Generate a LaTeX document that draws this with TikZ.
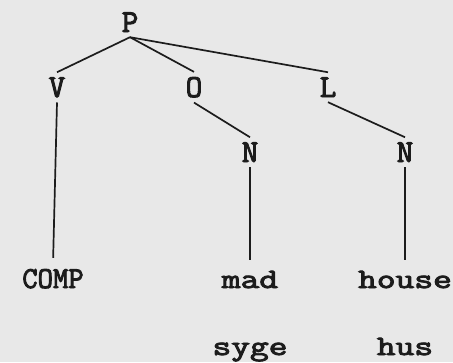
\documentclass[tikz,border=0pt]{standalone}
\usepackage{fontspec}
\usepackage{graphicx}
\usepackage{tikz}
\newfontfamily\typewriter{Latin Modern Mono}[FakeBold=3]
\newcommand{\wide}[1]{\scalebox{1.3}[1]{#1}}
\definecolor{paper}{HTML}{E8E8E8}
\definecolor{ink}{HTML}{1C1C1C}
\tikzset{
  cat/.style={
    anchor=base, inner sep=5pt, text=ink,
    font=\typewriter\fontsize{32}{34}\selectfont
  },
  word/.style={cat, font=\typewriter\fontsize{28}{30}\selectfont},
  branch/.style={draw=ink, line width=1.7pt},
  leaf/.style={branch, shorten >=6pt},
}

\begin{document}
\begin{tikzpicture}[x=1pt, y=-1pt]
    \useasboundingbox (0,0) rectangle (453,362);
    \fill[paper] (0,0) rectangle (453,362);
    \node[cat] (p) at (130,32) {P};
    \node[cat] (v) at (57,97) {V};
    \node[cat] (o) at (194,97) {O};
    \node[cat] (l) at (328,97) {L};
    \node[cat] (no) at (250,162) {N};
    \node[cat] (nl) at (405,162) {N};
    \node[cat] (comp) at (53,288) {\scalebox{0.93}[0.95]{COMP}};
    \node[word] (mad) at (250,288) {\wide{mad}};
    \node[word] (house) at (405,288) {\wide{house}};
    \node[word] (syge) at (250,355) {\wide{syge}};
    \node[word] (hus) at (405,355) {\wide{hus}};
    \draw[branch] (p.south) -- (v.north);
    \draw[branch] (p.south) -- (o.north);
    \draw[branch] (p.south) -- (l.north);
    \draw[branch] (o.south) -- (no.north);
    \draw[branch] (l.south) -- (nl.north);
    \draw[leaf] (v.south) -- (comp.north);
    \draw[leaf] (no.south) -- (mad.north);
    \draw[leaf] (nl.south) -- (house.north);
  \end{tikzpicture}
\end{document}
